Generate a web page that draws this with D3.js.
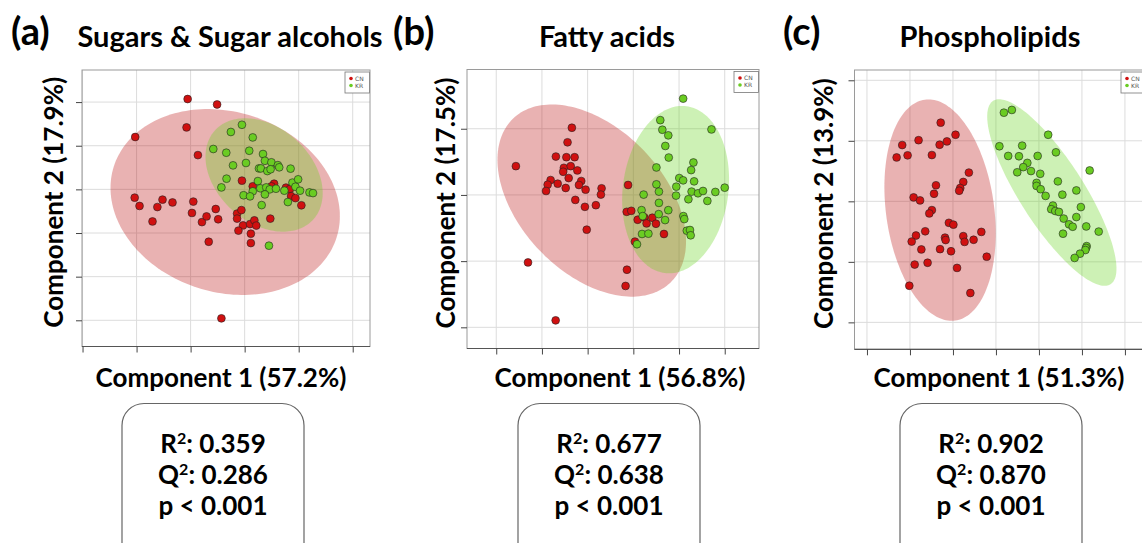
<!DOCTYPE html>
<html>
<head>
<meta charset="utf-8">
<script src="https://cdn.jsdelivr.net/npm/d3@7"></script>
<style>
  body { margin: 0; background: #fff; }
  svg { display: block; font-family: Lato, "Open Sans", sans-serif; }
</style>
</head>
<body>
<svg id="chart" width="1142" height="543"></svg>
<script>
// scores [component 1, component 2]
var sugarsCN = [[-2.11,4.14],[-1.02,3.89],[-4.05,2.40],[-2.15,2.84],[-1.73,1.57],[-0.10,0.40],[0.30,0.14],[1.09,0.26],[0.99,0.14],[1.53,0.08],[1.68,0.02],[1.72,-0.31],[1.88,-0.40],[2.10,-0.73],[-4.07,-0.38],[-3.89,-0.76],[-3.23,-0.81],[-3.04,-0.47],[-2.67,-0.60],[-3.41,-1.47],[-1.90,-0.56],[-1.95,-1.08],[-1.58,-1.50],[-1.41,-1.24],[-1.07,-0.90],[-0.98,-1.37],[-1.33,-2.40],[-0.28,-1.11],[-0.28,-1.34],[-0.12,-0.95],[-0.06,-1.65],[-0.23,-1.89],[0.20,-1.59],[0.36,-1.42],[0.43,-1.66],[0.23,-2.03],[0.23,-2.46],[0.95,-1.34],[-0.86,-5.91]];
var sugarsKR = [[-0.10,2.96],[-0.51,2.63],[0.30,2.38],[-1.16,1.85],[-0.68,1.68],[0.17,1.77],[0.68,1.62],[0.75,1.31],[0.99,1.24],[0.05,1.21],[-0.43,1.10],[0.53,0.96],[0.60,0.96],[0.84,0.84],[0.96,0.92],[1.23,1.11],[1.28,1.01],[1.70,0.95],[-0.67,0.49],[-0.86,0.09],[0.49,0.38],[0.58,0.05],[0.80,0.09],[0.93,0.00],[1.16,0.03],[1.47,-0.06],[1.77,0.31],[1.88,0.12],[1.98,0.46],[2.05,-0.06],[2.40,-0.14],[2.53,-0.17],[0.30,-0.09],[0.75,-0.23],[-0.04,-0.27],[0.20,-0.32],[0.63,-0.72],[1.60,-0.58],[0.90,-2.58]];
var fattyCN = [[-2.69,2.03],[-2.88,1.59],[-3.39,1.16],[-2.93,1.14],[-2.57,1.14],[-5.14,0.87],[-3.04,0.82],[-2.74,0.87],[-3.07,0.70],[-2.45,0.74],[-2.83,0.51],[-3.62,0.45],[-3.75,0.31],[-3.31,0.34],[-3.82,0.12],[-2.96,0.21],[-2.28,0.42],[-2.38,0.30],[-2.09,0.16],[-1.39,0.20],[-1.42,0.01],[-2.54,-0.15],[-2.12,-0.36],[-1.64,-0.31],[-2.04,-1.05],[-0.23,0.30],[-0.29,-0.51],[-0.09,-0.48],[0.19,-0.75],[0.48,-0.68],[0.58,-0.86],[0.83,-0.69],[0.99,-0.87],[1.34,-1.18],[0.07,-1.41],[-0.28,-2.26],[-0.34,-2.75],[-4.61,-2.04],[-3.40,-3.79]];
var fattyKR = [[2.18,2.91],[1.18,2.26],[1.27,1.97],[1.53,1.80],[3.42,1.98],[1.40,1.48],[1.55,1.13],[1.01,0.83],[2.63,0.98],[2.53,0.75],[2.01,0.51],[2.18,0.44],[2.66,0.41],[1.01,0.32],[1.88,0.25],[1.12,0.10],[0.45,0.01],[1.87,-0.02],[2.55,0.10],[2.83,0.05],[3.05,0.12],[3.59,0.09],[4.00,0.22],[2.41,-0.13],[3.24,-0.18],[1.12,-0.24],[1.53,-0.46],[0.36,-0.46],[0.41,-0.64],[1.11,-0.58],[1.39,-0.76],[2.19,-0.64],[2.23,-0.73],[2.34,-1.08],[2.48,-1.06],[2.51,-1.22],[0.38,-1.18],[0.66,-1.17],[0.16,-1.49]];
var phosphoCN = [[-2.57,2.60],[-1.88,2.20],[-4.36,1.86],[-3.60,2.02],[-2.62,1.87],[-2.28,1.98],[-4.62,1.45],[-4.11,1.52],[-2.98,1.53],[-1.26,0.95],[-1.52,0.64],[-2.79,0.53],[-1.66,0.44],[-1.71,0.35],[-2.88,0.25],[-3.83,0.13],[-3.53,0.03],[-2.98,-0.29],[-3.10,-0.40],[-2.19,-0.71],[-1.98,-0.77],[-3.29,-0.99],[-3.72,-1.13],[-3.92,-1.33],[-2.37,-1.20],[-2.34,-1.28],[-1.52,-1.15],[-1.46,-1.34],[-1.04,-1.27],[-0.68,-1.01],[-3.47,-1.59],[-2.60,-1.58],[-2.09,-1.65],[-0.43,-1.83],[-3.78,-2.09],[-3.18,-2.03],[-1.81,-2.20],[-4.03,-2.79],[-1.19,-3.03]];
var phosphoKR = [[0.37,2.93],[0.74,3.02],[2.43,2.20],[0.16,1.82],[1.22,1.84],[0.57,1.50],[1.07,1.49],[1.94,1.50],[2.79,1.62],[1.46,1.27],[1.27,1.13],[0.99,0.96],[1.63,1.00],[2.06,0.91],[4.36,1.02],[1.89,0.61],[1.89,0.51],[2.08,0.40],[2.88,0.66],[2.31,0.18],[3.09,0.22],[3.74,0.36],[3.95,-0.19],[2.65,-0.14],[2.57,-0.26],[2.76,-0.32],[2.93,-0.35],[3.74,-0.52],[3.15,-0.57],[3.40,-0.76],[3.57,-0.84],[4.20,-0.83],[4.78,-1.00],[3.12,-1.07],[4.22,-1.48],[4.19,-1.54],[4.16,-1.61],[3.91,-1.73],[3.66,-1.87]];

// confidence ellipses: [centre x, centre y, axis1 x, axis1 y, axis2 x, axis2 y]
var sugarsEllipse = { CN: [-0.72,-0.58, 4.12,-1.64, -1.02,-3.93], KR: [0.72,0.66, 1.82,-2.04, -1.18,-1.61] };
var fattyEllipse = { CN: [-1.82,-0.17, 3.44,-2.48, -2.28,-1.51], KR: [1.85,0.16, 0.48,2.52, 2.29,-0.21] };
var phosphoEllipse = { CN: [-2.60,-0.29, 0.71,-3.65, -2.49,-0.25], KR: [2.60,0.29, 2.73,-3.03, -1.26,-0.57] };

var groups = ['CN', 'KR'];
var groupColor = { CN: '#d01010', KR: '#6acc22' };
var groupFill = { CN: '#bb1111', KR: '#62d41a' };

var panelLetters = ['(a)', '(b)', '(c)'];
var panelTitles = ['Sugars & Sugar alcohols', 'Fatty acids', 'Phospholipids'];
var xLabels = ['Component 1 (57.2%)', 'Component 1 (56.8%)', 'Component 1 (51.3%)'];
var yLabels = ['Component 2 (17.9%)', 'Component 2 (17.5%)', 'Component 2 (13.9%)'];
var r2Values = ['0.359', '0.677', '0.902'];
var q2Values = ['0.286', '0.638', '0.870'];
var pValues = ['p < 0.001', 'p < 0.001', 'p < 0.001'];

var xTicks = [[-6,-4,-2,0,2,4], [-6,-4,-2,0,2,4], [-6,-4,-2,0,2,4,6]];
var yTicks = [[-6,-4,-2,0,2,4], [-4,-2,0,2], [-4,-2,0,2,4]];
var xDomains = [[-6.02,4.64], [-7.28,5.50], [-6.58,6.98]];
var yDomains = [[-7.2,5.47], [-4.64,3.79], [-4.89,4.34]];

var scores = [{CN: sugarsCN, KR: sugarsKR}, {CN: fattyCN, KR: fattyKR}, {CN: phosphoCN, KR: phosphoKR}];
var ellipses = [sugarsEllipse, fattyEllipse, phosphoEllipse];

// layout
var panels = [
  { left: 82, right: 370, top: 70, bottom: 346.5, letterX: 11, titleX: 230, xLabX: 221, yLabX: 63, boxL: 122, boxR: 304 },
  { left: 467, right: 759, top: 69.5, bottom: 348.5, letterX: 393, titleX: 607, xLabX: 620, yLabX: 455, boxL: 518, boxR: 700 },
  { left: 854.5, right: 1146, top: 70, bottom: 349.3, letterX: 783, titleX: 990, xLabX: 999, yLabX: 833, boxL: 900, boxR: 1082 }
];

var svg = d3.select('#chart');

panels.forEach(function(p, i) {
  var g, x, y, line, legend, cx, t;

  x = d3.scaleLinear().domain(xDomains[i]).range([p.left, p.right]);
  y = d3.scaleLinear().domain(yDomains[i]).range([p.bottom, p.top]);

  g = svg.append('g');

  // grid
  g.selectAll('.vgrid').data(xTicks[i]).enter().append('line')
    .attr('x1', function(d){ return x(d); }).attr('x2', function(d){ return x(d); })
    .attr('y1', p.top).attr('y2', p.bottom)
    .attr('stroke', '#dcdcdc').attr('stroke-width', 1);
  g.selectAll('.hgrid').data(yTicks[i]).enter().append('line')
    .attr('x1', p.left).attr('x2', p.right)
    .attr('y1', function(d){ return y(d); }).attr('y2', function(d){ return y(d); })
    .attr('stroke', '#dcdcdc').attr('stroke-width', 1);

  // ellipses
  line = d3.line().curve(d3.curveLinearClosed);
  groups.forEach(function(k) {
    var e = ellipses[i][k];
    var pts = d3.range(0, 2 * Math.PI, Math.PI / 90).map(function(t) {
      return [
        x(e[0] + e[2] * Math.cos(t) + e[4] * Math.sin(t)),
        y(e[1] + e[3] * Math.cos(t) + e[5] * Math.sin(t))
      ];
    });
    g.append('path').attr('d', line(pts))
      .attr('fill', groupFill[k]).attr('fill-opacity', 0.32);
  });

  // frame
  g.append('rect')
    .attr('x', p.left).attr('y', p.top)
    .attr('width', p.right - p.left).attr('height', p.bottom - p.top)
    .attr('fill', 'none').attr('stroke', '#9a9a9a').attr('stroke-width', 1);
  g.append('line')
    .attr('x1', p.left).attr('x2', p.right).attr('y1', p.bottom).attr('y2', p.bottom)
    .attr('stroke', '#555').attr('stroke-width', 1.2);

  // axes (ticks only, no labels)
  g.append('g').attr('transform', 'translate(0,' + p.bottom + ')')
    .call(d3.axisBottom(x).tickValues(xTicks[i]).tickSize(6).tickFormat(''))
    .call(function(a){ a.select('.domain').remove(); a.selectAll('line').attr('stroke', '#444'); });
  g.append('g').attr('transform', 'translate(' + p.left + ',0)')
    .call(d3.axisLeft(y).tickValues(yTicks[i]).tickSize(6).tickFormat(''))
    .call(function(a){ a.select('.domain').remove(); a.selectAll('line').attr('stroke', '#444'); });

  // points
  groups.forEach(function(k) {
    g.selectAll('.pt-' + k).data(scores[i][k]).enter().append('circle')
      .attr('cx', function(d){ return x(d[0]); })
      .attr('cy', function(d){ return y(d[1]); })
      .attr('r', 3.9)
      .attr('fill', groupColor[k])
      .attr('stroke', '#222').attr('stroke-width', 0.6);
  });

  // legend
  legend = g.append('g').attr('transform', 'translate(' + (p.right - 25) + ',' + (p.top + 2) + ')');
  legend.append('rect').attr('width', 24.5).attr('height', 21)
    .attr('fill', '#fff').attr('stroke', '#777').attr('stroke-width', 0.8);
  groups.forEach(function(k, j) {
    legend.append('circle').attr('cx', 6).attr('cy', 6.5 + j * 7).attr('r', 1.8).attr('fill', groupColor[k]);
    legend.append('text').attr('x', 10).attr('y', 8.6 + j * 7)
      .attr('font-size', 6).attr('fill', '#555').attr('font-family', 'DejaVu Sans').text(k);
  });

  // panel letter and title
  svg.append('text').attr('x', p.letterX).attr('y', 45)
    .attr('font-size', 38).attr('font-weight', 700).text(panelLetters[i]);
  svg.append('text').attr('x', p.titleX).attr('y', 47).attr('text-anchor', 'middle')
    .attr('font-size', 29).attr('font-weight', 700).text(panelTitles[i]);

  // axis titles
  svg.append('text').attr('x', p.xLabX).attr('y', 387).attr('text-anchor', 'middle')
    .attr('font-size', 26).attr('font-weight', 700).text(xLabels[i]);
  svg.append('text').attr('transform', 'translate(' + p.yLabX + ',' + ((p.top + p.bottom) / 2 - 6) + ') rotate(-90)')
    .attr('text-anchor', 'middle')
    .attr('font-size', 26).attr('font-weight', 700).text(yLabels[i]);

  // statistics box
  cx = (p.boxL + p.boxR) / 2;
  svg.append('rect').attr('x', p.boxL).attr('y', 403.5)
    .attr('width', p.boxR - p.boxL).attr('height', 170).attr('rx', 22)
    .attr('fill', 'none').attr('stroke', '#666').attr('stroke-width', 1.2);
  t = svg.append('text').attr('x', cx).attr('y', 453).attr('text-anchor', 'middle')
    .attr('font-size', 26).attr('font-weight', 700);
  t.append('tspan').text('R');
  t.append('tspan').attr('font-size', 16).attr('dy', -9).text('2');
  t.append('tspan').attr('dy', 9).text(': ' + r2Values[i]);
  t = svg.append('text').attr('x', cx).attr('y', 484.2).attr('text-anchor', 'middle')
    .attr('font-size', 26).attr('font-weight', 700);
  t.append('tspan').text('Q');
  t.append('tspan').attr('font-size', 16).attr('dy', -9).text('2');
  t.append('tspan').attr('dy', 9).text(': ' + q2Values[i]);
  svg.append('text').attr('x', cx).attr('y', 515.4).attr('text-anchor', 'middle')
    .attr('font-size', 26).attr('font-weight', 700).text(pValues[i]);
});
</script>
</body>
</html>
